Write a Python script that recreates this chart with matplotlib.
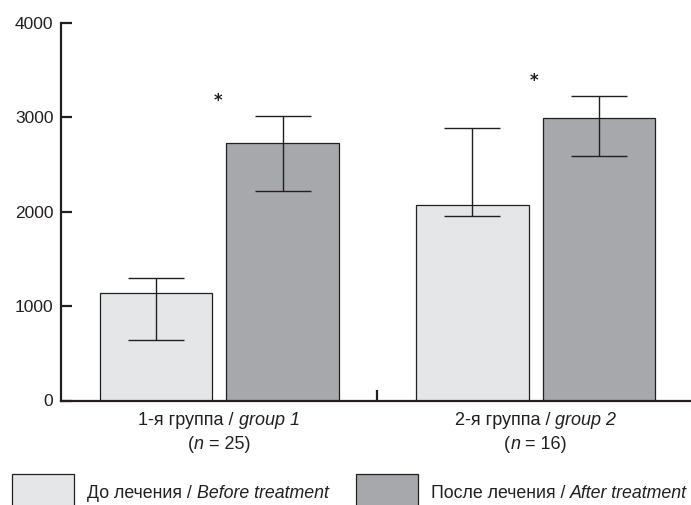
import matplotlib
matplotlib.use("Agg")
import matplotlib.pyplot as plt
from matplotlib.patches import Rectangle
from matplotlib.offsetbox import TextArea, HPacker, AnnotationBbox
import numpy as np

# ---- data ----
group_labels = [[("1-я группа / ", "normal"), ("group 1", "italic")],
                [("2-я группа / ", "normal"), ("group 2", "italic")]]
group_n = [[("(", "normal"), ("n", "italic"), (" = 25)", "normal")],
           [("(", "normal"), ("n", "italic"), (" = 16)", "normal")]]
series_names = [[("До лечения / ", "normal"), ("Before treatment", "italic")],
                [("После лечения / ", "normal"), ("After treatment", "italic")]]
before = [1135, 2075]
after = [2729, 2998]
before_err_low = [490, 121]
before_err_high = [159, 809]
after_err_low = [509, 410]
after_err_high = [286, 233]
star_y = [3170, 3383]
y_ticks = [0, 1000, 2000, 3000, 4000]

FAM = ["Liberation Sans", "DejaVu Sans"]
plt.rcParams["font.family"] = FAM

c_before = "#e5e6e8"
c_after = "#a7a8ab"
edge = "#231f20"

fig = plt.figure(figsize=(6.91, 5.05), dpi=100)
W, H = 691, 505
ax = fig.add_axes([61 / W, (H - 400.5) / H, 633 / W, 377.5 / H])


def rich(parent, parts, xy, xycoords, align, size):
    areas = [TextArea(t, textprops=dict(fontsize=size, style=s, color=edge,
                                         family=FAM)) for t, s in parts]
    pack = HPacker(children=areas, align="baseline", pad=0, sep=0)
    ab = AnnotationBbox(pack, xy, xycoords=xycoords, box_alignment=align,
                        frameon=False, pad=0, annotation_clip=False)
    parent.add_artist(ab)
    return ab


x = np.arange(len(before))
w = 0.356
off = 0.2
ekw = dict(elinewidth=1.0, capthick=1.0, ecolor=edge)
ax.bar(x - off, before, width=w, color=c_before, edgecolor=edge, linewidth=0.9,
       yerr=[before_err_low, before_err_high], capsize=20, error_kw=ekw, zorder=2)
ax.bar(x + off, after, width=w, color=c_after, edgecolor=edge, linewidth=0.9,
       yerr=[after_err_low, after_err_high], capsize=20, error_kw=ekw, zorder=2)

for i, sy in enumerate(star_y):
    ax.text(x[i] - 0.005, sy, "*", ha="center", va="center", fontsize=12,
            color=edge, family=["DejaVu Sans"], fontweight="bold")

ax.set_xlim(-0.5, 1.5)
ax.set_ylim(0, 4000)
ax.set_yticks(y_ticks)
ax.set_yticklabels([str(t) for t in y_ticks], fontsize=12.5, color=edge)
ax.tick_params(axis="y", direction="in", length=8, width=1.6, pad=5.5,
               colors=edge, labelcolor=edge)
ax.set_xticks([0.5])
ax.set_xticklabels([""])
ax.tick_params(axis="x", direction="in", length=8, width=1.6, colors=edge)

for s in ["top", "right"]:
    ax.spines[s].set_visible(False)
for s in ["left", "bottom"]:
    ax.spines[s].set_linewidth(1.6)
    ax.spines[s].set_color(edge)

tr = ax.get_xaxis_transform()
y1 = -(420.5 - 400.5) / 377.5
y2 = -(444.5 - 400.5) / 377.5
for i in range(len(before)):
    rich(ax, group_labels[i], (x[i], y1), tr, (0.5, 0.5), 13)
    rich(ax, group_n[i], (x[i], y2), tr, (0.5, 0.5), 13)

# legend (bottom of boxes clipped by figure edge, as in the source)
boxes = [(12, c_before), (356, c_after)]
text_x = [87, 431]
for (bx, col), tx, name in zip(boxes, text_x, series_names):
    fig.patches.append(Rectangle((bx / W, -0.05), 62 / W, (H - 474) / H + 0.05,
                                 transform=fig.transFigure, facecolor=col,
                                 edgecolor=edge, linewidth=0.9))
    rich(fig, name, (tx / W, (H - 493) / H), "figure fraction", (0.0, 0.5), 12.8)

fig.savefig("out.png", dpi=100)
